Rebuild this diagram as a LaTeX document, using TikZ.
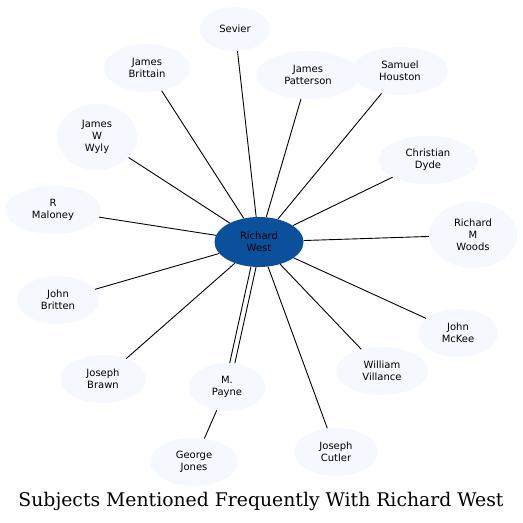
\documentclass[tikz,border=0pt]{standalone}
\usepackage{fontspec}
\usetikzlibrary{shapes.geometric}
\newfontfamily\nodefont{DejaVu Sans}
\newfontfamily\titlefont{DejaVu Serif}
\definecolor{hub}{RGB}{11,80,155}
\definecolor{leaf}{RGB}{245,248,254}
\begin{document}
\begin{tikzpicture}[x=1pt,y=-1pt,
  leafnode/.style={ellipse,fill=leaf,inner sep=0pt,align=center,font=\nodefont\fontsize{10}{12}\selectfont},
  link/.style={draw=black,line width=0.9pt}]
\useasboundingbox (0,0) rectangle (523,523);
\node[leafnode,fill=hub,minimum width=89pt,minimum height=50pt] (rw) at (259,242) {Richard\\West};
\node[leafnode,minimum width=70pt,minimum height=44pt] (sev) at (235,29) {Sevier};
\node[leafnode,minimum width=86pt,minimum height=48pt] (jb) at (147,68) {James\\Brittain};
\node[leafnode,minimum width=104pt,minimum height=48pt] (jp) at (308,75) {James\\Patterson};
\node[leafnode,minimum width=96pt,minimum height=48pt] (sh) at (400,71) {Samuel\\Houston};
\node[leafnode,minimum width=80pt,minimum height=66pt] (jww) at (97,137) {James\\W\\Wyly};
\node[leafnode,minimum width=100pt,minimum height=48pt] (cd) at (428,160) {Christian\\Dyde};
\node[leafnode,minimum width=96pt,minimum height=48pt] (rm) at (53,210) {R\\Maloney};
\node[leafnode,minimum width=88pt,minimum height=66pt] (rmw) at (473,235) {Richard\\M\\Woods};
\node[leafnode,minimum width=82pt,minimum height=48pt] (jbr) at (58,300) {John\\Britten};
\node[leafnode,minimum width=80pt,minimum height=48pt] (jm) at (458,333) {John\\McKee};
\node[leafnode,minimum width=86pt,minimum height=48pt] (jo) at (103,379) {Joseph\\Brawn};
\node[leafnode,minimum width=76pt,minimum height=48pt] (mp) at (227,387) {M.\\Payne};
\node[leafnode,minimum width=92pt,minimum height=48pt] (wv) at (382,371) {William\\Villance};
\node[leafnode,minimum width=88pt,minimum height=48pt] (gj) at (194,462) {George\\Jones};
\node[leafnode,minimum width=84pt,minimum height=48pt] (jc) at (336,452) {Joseph\\Cutler};
\foreach \t in {sev,jb,jp,sh,jww,cd,rm,rmw,jbr,jm,jo,wv,jc}{\draw[link] (rw) -- (\t);}
\draw[link,transform canvas={xshift=-2.6pt}] (rw) -- (mp);
\draw[link,transform canvas={xshift=2.6pt}] (rw) -- (mp);
\draw[link] (mp) -- (gj);
\node[inner sep=0pt] (title) at (261,501) {\resizebox{485pt}{!}{\titlefont Subjects Mentioned Frequently With Richard West}};
\end{tikzpicture}
\end{document}
